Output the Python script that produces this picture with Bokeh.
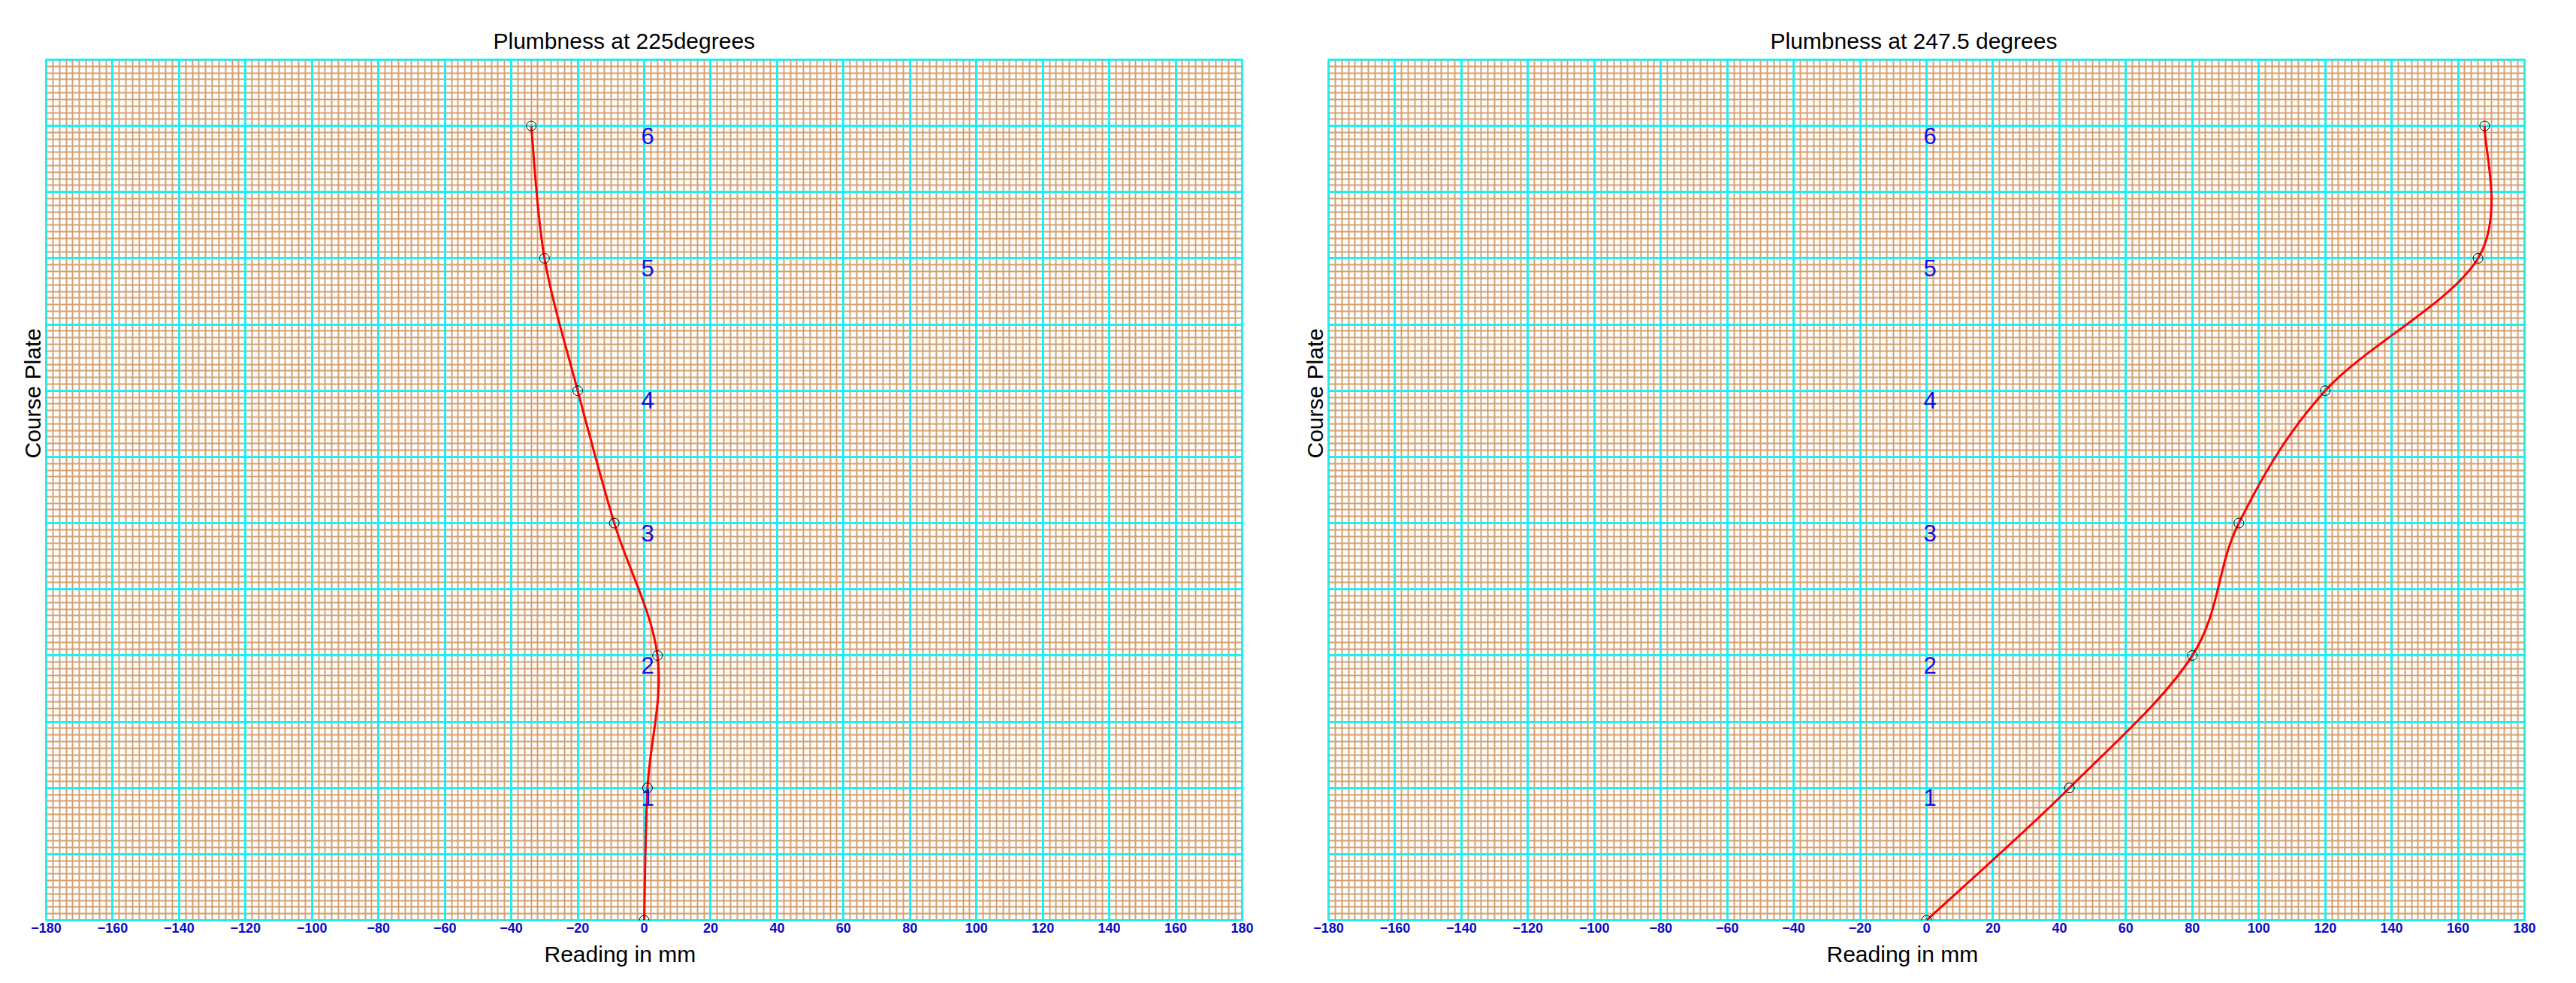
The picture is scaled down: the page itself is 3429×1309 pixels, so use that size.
import numpy as np
from bokeh.plotting import figure
from bokeh.models import Grid, SingleIntervalTicker, FixedTicker, Title, Range1d
from bokeh.layouts import row
from bokeh.embed import file_html
from bokeh.resources import INLINE
from bokeh.core.properties import value

# ---------------- data ----------------
course = [0, 1, 2, 3, 4, 5, 6]
reading_225 = [0, 1, 4, -9, -20, -30, -34]
reading_2475 = [0, 43, 80, 94, 120, 166, 168]
course_labels = ["1", "2", "3", "4", "5", "6"]
x_ticks = list(range(-180, 181, 20))
titles = ["Plumbness at 225degrees", "Plumbness at 247.5 degrees"]
x_label = "Reading in mm"
y_label = "Course Plate"

MINOR = "#D4A070"
MAJOR = "#1CF0F0"
FONT = "Liberation Sans"


def smooth_segments(xs, ys):
    """Bezier control points of a Catmull-Rom style smoothed line through the data."""
    P = np.column_stack([np.asarray(xs, float), np.asarray(ys, float)])
    n = len(P)
    pp = np.vstack([P[:1], P, P[-1:]])
    c1 = P[:-1] + (pp[2:n + 1] - pp[0:n - 1]) / 6.0
    c2 = P[1:] - (pp[3:n + 2] - pp[1:n]) / 6.0
    return dict(x0=P[:-1, 0], y0=P[:-1, 1], x1=P[1:, 0], y1=P[1:, 1],
                cx0=c1[:, 0], cy0=c1[:, 1], cx1=c2[:, 0], cy1=c2[:, 1])


def make_panel(title, readings, title_offset, border_right):
    p = figure(frame_width=1592, frame_height=1146,
               x_range=Range1d(-180, 180), y_range=Range1d(0, 6.5),
               output_backend="svg", toolbar_location=None,
               y_axis_location=None,
               min_border_left=61, min_border_right=border_right,
               min_border_top=79, min_border_bottom=80,
               background_fill_color="white", border_fill_color="white",
               outline_line_color=MAJOR, outline_line_width=3)
    # remove default grids
    p.center = [r for r in p.center if not isinstance(r, Grid)]

    xt = SingleIntervalTicker(interval=20, num_minor_ticks=10)
    yt = SingleIntervalTicker(interval=0.5, num_minor_ticks=10)
    p.add_layout(Grid(dimension=0, ticker=xt, grid_line_color=None,
                      minor_grid_line_color=MINOR, minor_grid_line_width=2), "center")
    p.add_layout(Grid(dimension=1, ticker=yt, grid_line_color=None,
                      minor_grid_line_color=MINOR, minor_grid_line_width=2), "center")
    p.add_layout(Grid(dimension=0, ticker=xt, grid_line_color=MAJOR,
                      grid_line_width=3), "center")
    p.add_layout(Grid(dimension=1, ticker=yt, grid_line_color=MAJOR,
                      grid_line_width=3), "center")

    ax = p.xaxis[0]
    ax.ticker = FixedTicker(ticks=x_ticks)
    ax.axis_line_color = None
    ax.major_tick_line_color = None
    ax.minor_tick_line_color = None
    ax.major_tick_out = 0
    ax.major_tick_in = 0
    ax.minor_tick_out = 0
    ax.minor_tick_in = 0
    ax.major_label_standoff = 3
    ax.major_label_text_font = FONT
    ax.major_label_text_font_style = "bold"
    ax.major_label_text_font_size = "18px"
    ax.major_label_text_color = "#0A0ACC"

    p.add_layout(Title(text=title, align="left", offset=title_offset,
                       text_font=FONT, text_font_size="30px",
                       text_font_style="normal", text_color="black",
                       standoff=18), "above")
    p.add_layout(Title(text=y_label, align="left", offset=615,
                       text_font=FONT, text_font_size="30px",
                       text_font_style="normal", text_color="black",
                       standoff=4), "left")
    p.add_layout(Title(text=x_label, align="left", offset=663,
                       text_font=FONT, text_font_size="30px",
                       text_font_style="normal", text_color="black",
                       standoff=15), "below")

    seg = smooth_segments(readings, course)
    p.bezier(x0=seg["x0"], y0=seg["y0"], x1=seg["x1"], y1=seg["y1"],
             cx0=seg["cx0"], cy0=seg["cy0"], cx1=seg["cx1"], cy1=seg["cy1"],
             line_color="#FF0000", line_width=3)
    p.scatter(x=readings, y=course, marker="circle", size=13,
              fill_color=None, line_color="black", line_width=1)

    p.text(x=np.zeros(len(course_labels)), y=course[1:], text=course_labels,
           text_font=value(FONT), text_font_size="31px", text_color="#1010E8",
           text_align="left", text_baseline="top", x_offset=-4, y_offset=2)
    return p


p1 = make_panel(titles[0], reading_225, 595, 54)
p2 = make_panel(titles[1], reading_2475, 588, 62)
layout = row(p1, p2, spacing=0)

open("out.html", "w").write(file_html(layout, INLINE))
